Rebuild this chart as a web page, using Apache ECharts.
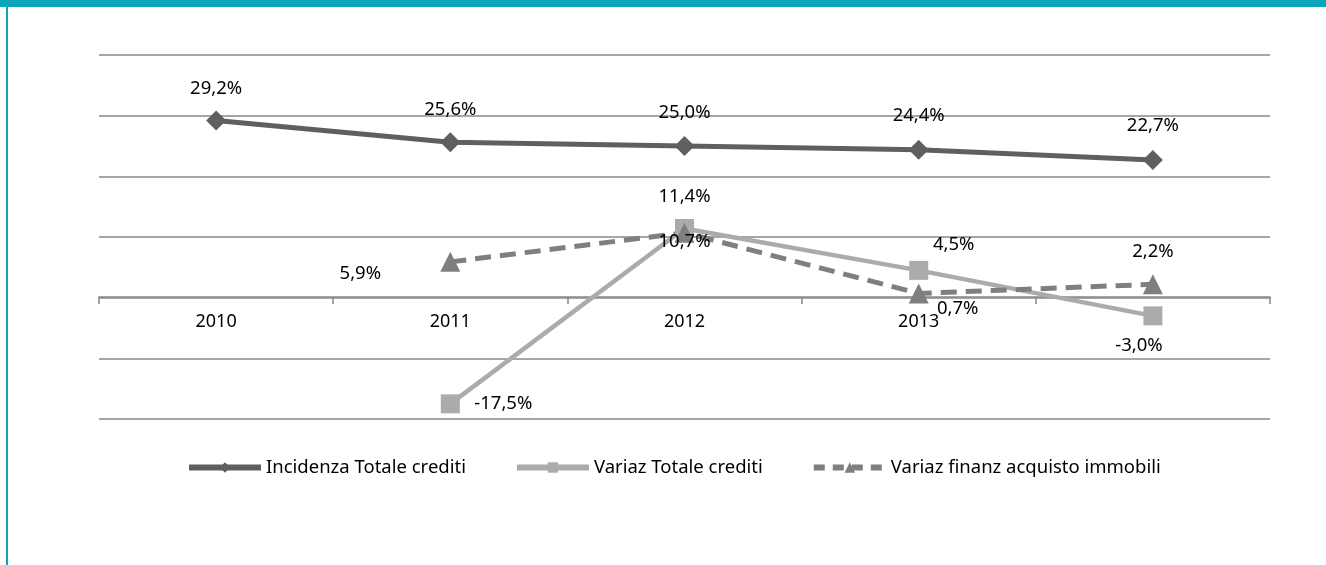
<!DOCTYPE html>
<html>
<head>
<meta charset="utf-8">
<script src="https://cdn.jsdelivr.net/npm/echarts@6/dist/echarts.min.js"></script>
<style>
  html, body { margin: 0; padding: 0; background: #fff; }
  #chart { width: 1326px; height: 565px; }
</style>
</head>
<body>
<div id="chart"></div>
<script>
const years = ['2010', '2011', '2012', '2013', ''];
const incidenzaTotale = [29.2, 25.6, 25.0, 24.4, 22.7];
const variazTotale = [null, -17.5, 11.4, 4.5, -3.0];
const variazFinanz = [null, 5.9, 10.7, 0.7, 2.2];
const seriesNames = ['Incidenza Totale crediti', 'Variaz Totale crediti', 'Variaz finanz acquisto immobili'];

// label offsets from point centre (manually placed in the original)
const incOffsets = [[0, -32], [0, -33], [0, -33], [0, -34], [0, -34]];
const totOffsets = [null, [53, 0], [0, -32], [35, -26], [-14, 30]];
const finOffsets = [null, [-90, 12], [0, 9], [39, 15], [0, -33]];

const FONT = '"Noto Sans", sans-serif';
const GRID_COLOR = '#888888';

function fmt(v) {
  return v.toFixed(1).replace('.', ',') + '%';
}

function buildData(values, offsets) {
  let out = [];
  for (var i = 0; i < values.length; i++) {
    if (values[i] === null) {
      out.push(null);
      continue;
    }
    out.push({
      value: values[i],
      label: { position: 'inside', offset: offsets[i] }
    });
  }
  return out;
}

const labelStyle = {
  show: true,
  color: '#000',
  fontFamily: FONT,
  fontSize: 18.5,
  formatter: function (p) { return fmt(p.value); }
};

var chart = echarts.init(document.getElementById('chart'));
chart.setOption({
  animation: false,
  graphic: [
    { type: 'rect', shape: { x: 0, y: 0, width: 1326, height: 7 }, style: { fill: '#0AA6B7' } },
    { type: 'rect', shape: { x: 6, y: 0, width: 2, height: 565 }, style: { fill: '#0AA6B7' } }
  ],
  grid: { left: 99, right: 56, top: 55, bottom: 146 },
  legend: {
    left: 181,
    top: 453,
    itemWidth: 72,
    itemHeight: 13,
    itemGap: 48,
    textStyle: { fontFamily: FONT, fontSize: 18.5, color: '#000' },
    data: [
      { name: seriesNames[0], lineStyle: { width: 6 } },
      { name: seriesNames[1], lineStyle: { width: 6 } },
      { name: seriesNames[2], lineStyle: { width: 6, type: [11, 8] } }
    ]
  },
  xAxis: {
    type: 'category',
    data: years,
    boundaryGap: true,
    position: 'bottom',
    offset: -122,
    axisLine: { onZero: false, lineStyle: { color: GRID_COLOR, width: 1.5 } },
    axisTick: { show: true, length: 7, lineStyle: { color: GRID_COLOR, width: 1.5 } },
    axisLabel: { color: '#000', fontFamily: FONT, fontSize: 18, margin: 16 },
    splitLine: { show: false }
  },
  yAxis: {
    type: 'value',
    min: -20,
    max: 40,
    interval: 10,
    axisLine: { show: false },
    axisTick: { show: false },
    axisLabel: { show: false },
    splitLine: { lineStyle: { color: GRID_COLOR, width: 1.5 } }
  },
  series: [
    {
      name: seriesNames[0],
      type: 'line',
      data: buildData(incidenzaTotale, incOffsets),
      symbol: 'diamond',
      symbolSize: 20,
      color: '#5F5F5F',
      lineStyle: { width: 5, color: '#5F5F5F' },
      itemStyle: { color: '#5F5F5F' },
      label: labelStyle
    },
    {
      name: seriesNames[1],
      type: 'line',
      data: buildData(variazTotale, totOffsets),
      symbol: 'rect',
      symbolSize: 19,
      color: '#ABABAB',
      lineStyle: { width: 4.5, color: '#ABABAB' },
      itemStyle: { color: '#ABABAB' },
      label: labelStyle
    },
    {
      name: seriesNames[2],
      type: 'line',
      data: buildData(variazFinanz, finOffsets),
      symbol: 'triangle',
      symbolSize: 20,
      color: '#7F7F7F',
      lineStyle: { width: 5, color: '#7F7F7F', type: [16, 9] },
      itemStyle: { color: '#7F7F7F' },
      label: labelStyle,
      z: 3
    }
  ]
});
</script>
</body>
</html>
